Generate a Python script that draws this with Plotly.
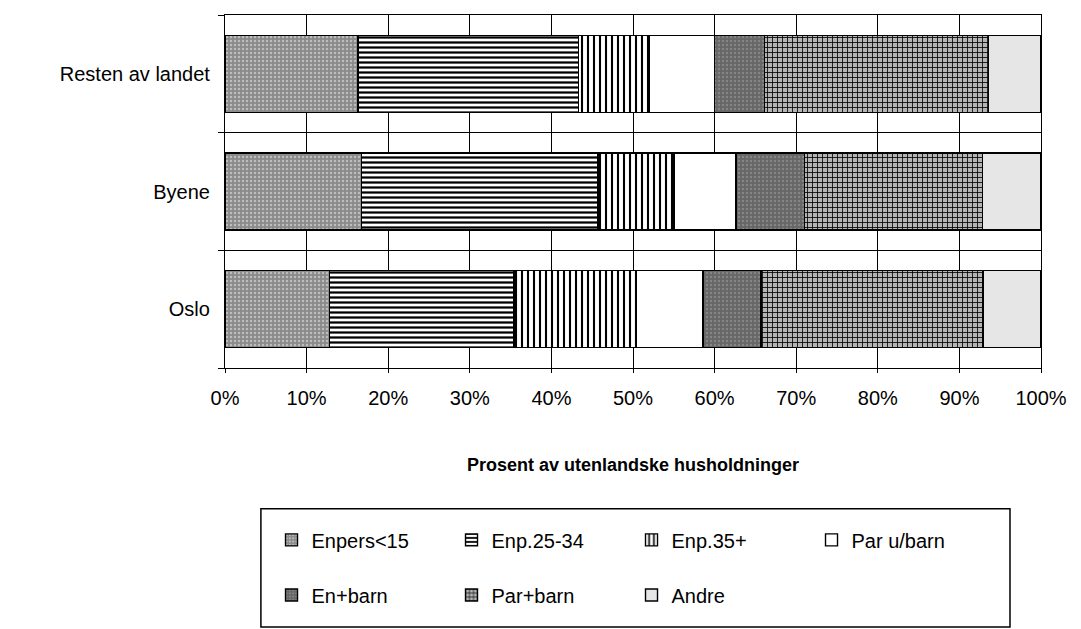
import plotly.graph_objects as go

# Household composition of foreign households, share in percent
regions = ["Oslo", "Byene", "Resten av landet"]

enpers_u15 = [12.8, 16.7, 16.3]
enp_25_34 = [22.6, 29.0, 27.0]
enp_35 = [15.0, 9.3, 8.7]
par_u_barn = [8.2, 7.6, 8.0]
en_barn = [7.1, 8.4, 6.1]
par_barn = [27.2, 21.8, 27.5]
andre = [7.1, 7.2, 6.4]

x_ticks = [0, 10, 20, 30, 40, 50, 60, 70, 80, 90, 100]
x_tick_text = ["0%", "10%", "20%", "30%", "40%", "50%", "60%", "70%", "80%", "90%", "100%"]

FONT = "Liberation Sans, Arial, Helvetica, sans-serif"

series = [
    ("Enpers<15", enpers_u15, dict(color="#8a8a8a", pattern=dict(shape=".", fgcolor="#bdbdbd", bgcolor="#8a8a8a", size=4, solidity=0.3, fillmode="replace")), "legend"),
    ("Enp.25-34", enp_25_34, dict(color="white", pattern=dict(shape="-", fgcolor="black", bgcolor="white", size=5, solidity=0.45, fillmode="replace")), "legend"),
    ("Enp.35+", enp_35, dict(color="white", pattern=dict(shape="|", fgcolor="black", bgcolor="white", size=6, solidity=0.35, fillmode="replace")), "legend"),
    ("Par u/barn", par_u_barn, dict(color="white"), "legend"),
    ("En+barn", en_barn, dict(color="#666666", pattern=dict(shape=".", fgcolor="#858585", bgcolor="#666666", size=4, solidity=0.3, fillmode="replace")), "legend2"),
    ("Par+barn", par_barn, dict(color="#b4b4b4", pattern=dict(shape="+", fgcolor="black", bgcolor="#b4b4b4", size=5, solidity=0.3, fillmode="replace")), "legend2"),
    ("Andre", andre, dict(color="#e6e6e6"), "legend2"),
]

fig = go.Figure()
for name, vals, marker, leg in series:
    marker = dict(marker)
    marker["line"] = dict(color="black", width=1.4)
    fig.add_trace(go.Bar(
        name=name, y=regions, x=vals, orientation="h",
        marker=marker, legend=leg,
    ))

legend_common = dict(
    orientation="h", xanchor="left", yanchor="middle",
    entrywidth=135, entrywidthmode="pixels",
    bgcolor="rgba(0,0,0,0)", borderwidth=0,
    font=dict(family=FONT, size=20, color="black"),
    traceorder="normal",
)

fig.update_layout(
    width=1081, height=629,
    margin=dict(l=225, r=40, t=15, b=261),
    paper_bgcolor="white", plot_bgcolor="white",
    barmode="stack", bargap=0.345,
    font=dict(family=FONT, size=20, color="black"),
    xaxis=dict(
        range=[0, 100], tickvals=x_ticks, ticktext=x_tick_text,
        showgrid=True, gridcolor="black", gridwidth=1,
        showline=True, linecolor="black", linewidth=1.2, mirror=True,
        ticks="outside", ticklen=4, tickcolor="black",
        ticklabelstandoff=8,
        tickfont=dict(family=FONT, size=20),
        zeroline=False,
        title=dict(text="<b>Prosent av utenlandske husholdninger</b>",
                   font=dict(family=FONT, size=18), standoff=50),
    ),
    yaxis=dict(
        type="category", tickson="boundaries",
        showgrid=True, gridcolor="black", gridwidth=1,
        showline=True, linecolor="black", linewidth=1.2, mirror=True,
        ticks="outside", ticklen=6, tickcolor="black",
        ticklabelstandoff=10,
        tickfont=dict(family=FONT, size=20),
    ),
    legend=dict(x=0.057, y=-0.487, **legend_common),
    legend2=dict(x=0.057, y=-0.643, **legend_common),
    showlegend=True,
    shapes=[dict(
        type="rect", xref="paper", yref="paper",
        x0=0.044, x1=0.962, y0=-0.734, y1=-0.399,
        line=dict(color="black", width=1.5), fillcolor="rgba(0,0,0,0)",
    )],
)

fig.write_html("out.html")
